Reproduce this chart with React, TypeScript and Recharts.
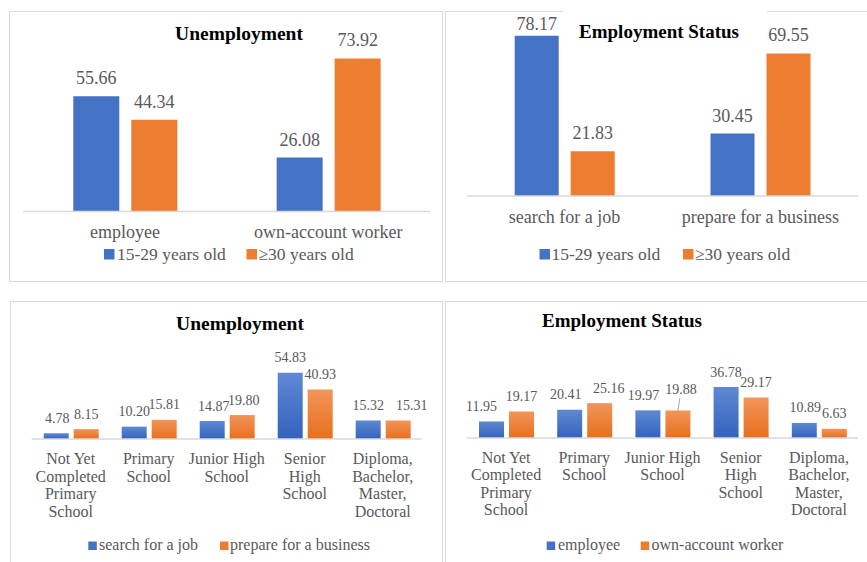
import React from 'react';
import { BarChart, Bar, XAxis, YAxis, LabelList } from 'recharts';

const FONT = '"Liberation Serif", "Times New Roman", serif';
const BLUE = '#4472C4';
const ORANGE = '#ED7D31';
const GREY = '#595959';
const BORDER = '#DADADA';

// top-left: unemployment by age group
const statusCats = ['employee', 'own-account worker'];
const unempYoung = [55.66, 26.08];
const unempOld = [44.34, 73.92];

// top-right: employment status by age group
const activityCats = ['search for a job', 'prepare for a business'];
const empYoung = [78.17, 30.45];
const empOld = [21.83, 69.55];
const ageNames = ['15-29 years old', '≥30 years old'];

// bottom: by education level
const eduCats = [
    'Not Yet\nCompleted\nPrimary\nSchool',
    'Primary\nSchool',
    'Junior High\nSchool',
    'Senior\nHigh\nSchool',
    'Diploma,\nBachelor,\nMaster,\nDoctoral',
];
const unempSearch = [4.78, 10.2, 14.87, 54.83, 15.32];
const unempPrepare = [8.15, 15.81, 19.8, 40.93, 15.31];
const empEmployee = [11.95, 20.41, 19.97, 36.78, 10.89];
const empOwnAccount = [19.17, 25.16, 19.88, 29.17, 6.63];

const toRows = (cats: string[], a: number[], b: number[]) =>
    cats.map((name, i) => ({ name, a: a[i], b: b[i] }));

const CatTick = ({ x, y, payload, fs, dy, lineH }: any) => {
    const lines = String(payload.value).split('\n');
    return (
        <text x={x} y={y + dy} textAnchor="middle" fontFamily={FONT} fontSize={fs} fill={GREY}>
            {lines.map((l, i) => (
                <tspan key={i} x={x} dy={i === 0 ? 0 : lineH}>{l}</tspan>
            ))}
        </text>
    );
};

// data label above a bar; nudges mimic the hand-placed labels of the original
const ValueLabel = ({ x, y, width, value, index, fs, offset, minY, callout, nudge }: any) => {
    const cx = x + width / 2 + (nudge?.[index] ?? 0);
    let by = y - offset;
    if (minY != null) by = Math.max(by, minY);
    const isCallout = callout === index;
    if (isCallout) by -= 6;
    return (
        <g>
            {isCallout && <line x1={cx} y1={y} x2={cx + 2} y2={by + 4} stroke="#A6A6A6" strokeWidth={1} />}
            <text x={isCallout ? cx + 3 : cx} y={by} textAnchor="middle" fontFamily={FONT} fontSize={fs} fill={GREY}>
                {Number(value).toFixed(2)}
            </text>
        </g>
    );
};

interface PanelProps {
    id: string;
    box: { l: number; t: number; w: number; h: number };
    frame: { l: number; t: number; w: number; h: number };
    margin: { top: number; right: number; bottom: number; left: number };
    rows: { name: string; a: number; b: number }[];
    domain: [number, number];
    barSize: number;
    barGap: number;
    gradient?: boolean;
    tick: { fs: number; dy: number; lineH: number };
    label: { fs: number; offset: number; minY?: number; callout?: number; nudgeA?: number[]; nudgeB?: number[] };
    title: { text: string; x: number; y: number; fs: number; cover?: [number, number] };
    legend: { y: number; fs: number; sq: number; names: string[]; sx: number[]; tx: number[] };
}

const Panel: React.FC<PanelProps> = (p) => {
    const fillA = p.gradient ? `url(#${p.id}-a)` : BLUE;
    const fillB = p.gradient ? `url(#${p.id}-b)` : ORANGE;
    return (
        <>
            <div style={{ position: 'absolute', left: p.frame.l, top: p.frame.t, width: p.frame.w, height: p.frame.h, border: `1.5px solid ${BORDER}`, boxSizing: 'border-box' }} />
            <div style={{ position: 'absolute', left: p.box.l, top: p.box.t }}>
                <BarChart width={p.box.w} height={p.box.h} data={p.rows} margin={p.margin} barGap={p.barGap}>
                    <defs>
                        <linearGradient id={`${p.id}-a`} x1="0" y1="0" x2="0" y2="1">
                            <stop offset="0%" stopColor="#5F89D2" />
                            <stop offset="100%" stopColor="#3462BE" />
                        </linearGradient>
                        <linearGradient id={`${p.id}-b`} x1="0" y1="0" x2="0" y2="1">
                            <stop offset="0%" stopColor="#F2955A" />
                            <stop offset="100%" stopColor="#E86F1C" />
                        </linearGradient>
                    </defs>
                    <XAxis
                        dataKey="name"
                        interval={0}
                        tickLine={false}
                        tickSize={0}
                        tickMargin={0}
                        height={30}
                        axisLine={{ stroke: '#D9D9D9', strokeWidth: 1.5 }}
                        tick={(t: any) => <CatTick {...t} fs={p.tick.fs} dy={p.tick.dy} lineH={p.tick.lineH} />}
                    />
                    <YAxis hide domain={p.domain} />
                    <Bar dataKey="a" fill={fillA} barSize={p.barSize} isAnimationActive={false}>
                        <LabelList dataKey="a" content={(l: any) => <ValueLabel {...l} fs={p.label.fs} offset={p.label.offset} minY={p.label.minY} nudge={p.label.nudgeA} />} />
                    </Bar>
                    <Bar dataKey="b" fill={fillB} barSize={p.barSize} isAnimationActive={false}>
                        <LabelList dataKey="b" content={(l: any) => <ValueLabel {...l} fs={p.label.fs} offset={p.label.offset} minY={p.label.minY} callout={p.label.callout} nudge={p.label.nudgeB} />} />
                    </Bar>
                </BarChart>
            </div>
            <svg width={867} height={562} style={{ position: 'absolute', left: 0, top: 0, pointerEvents: 'none' }}>
                {p.title.cover && (
                    <rect x={p.title.cover[0]} y={p.frame.t - 3} width={p.title.cover[1] - p.title.cover[0]} height={6} fill="#fff" />
                )}
                <text x={p.title.x} y={p.title.y} textAnchor="middle" fontFamily={FONT} fontWeight="bold" fontSize={p.title.fs} fill="#000">
                    {p.title.text}
                </text>
                {p.legend.names.map((n, i) => (
                    <g key={n}>
                        <rect x={p.legend.sx[i]} y={p.legend.y - p.legend.sq} width={p.legend.sq} height={p.legend.sq} fill={i === 0 ? BLUE : ORANGE} />
                        <text x={p.legend.tx[i]} y={p.legend.y} fontFamily={FONT} fontSize={p.legend.fs} fill={GREY}>{n}</text>
                    </g>
                ))}
            </svg>
        </>
    );
};

export default function App() {
    return (
        <div style={{ position: 'absolute', left: 0, top: 0, width: 867, height: 562, overflow: 'hidden', background: '#fff' }}>
            <Panel
                id="p1"
                frame={{ l: 9, t: 11, w: 434, h: 271 }}
                box={{ l: 9, t: 11, w: 434, h: 271 }}
                margin={{ top: 34.9, right: 13, bottom: 40.5, left: 14.3 }}
                rows={toRows(statusCats, unempYoung, unempOld)}
                domain={[0, 80]}
                barSize={46}
                barGap={12}
                tick={{ fs: 18, dy: 26, lineH: 18 }}
                label={{ fs: 18, offset: 12 }}
                title={{ text: 'Unemployment', x: 239, y: 40, fs: 19.5 }}
                legend={{ y: 259.5, fs: 17.5, sq: 10.5, names: ageNames, sx: [104, 246.5], tx: [117, 258.5] }}
            />
            <Panel
                id="p2"
                frame={{ l: 445, t: 11, w: 430, h: 271 }}
                box={{ l: 445, t: 11, w: 422, h: 271 }}
                margin={{ top: 21, right: 8.7, bottom: 56, left: 21.7 }}
                rows={toRows(activityCats, empYoung, empOld)}
                domain={[0, 80]}
                barSize={44}
                barGap={12}
                tick={{ fs: 18, dy: 26.5, lineH: 18 }}
                label={{ fs: 18, offset: 12, minY: 19 }}
                title={{ text: 'Employment Status', x: 659, y: 37.5, fs: 19, cover: [563, 767] }}
                legend={{ y: 259.5, fs: 17.5, sq: 10.5, names: ageNames, sx: [539.5, 683], tx: [551.5, 695] }}
            />
            <Panel
                id="p3"
                gradient
                frame={{ l: 10, t: 301, w: 433, h: 270 }}
                box={{ l: 10, t: 301, w: 433, h: 261 }}
                margin={{ top: 65.4, right: 21.3, bottom: 93, left: 21.7 }}
                rows={toRows(eduCats, unempSearch, unempPrepare)}
                domain={[0, 60]}
                barSize={25}
                barGap={5}
                tick={{ fs: 16, dy: 25, lineH: 17.5 }}
                label={{ fs: 14, offset: 10.5, nudgeA: [1, 0, 1.5, 0, 0], nudgeB: [0, 0, 1.5, 0, 13.5] }}
                title={{ text: 'Unemployment', x: 240, y: 330, fs: 19.5 }}
                legend={{ y: 550, fs: 16, sq: 8.5, names: ['search for a job', 'prepare for a business'], sx: [88.3, 220], tx: [99, 230] }}
            />
            <Panel
                id="p4"
                gradient
                frame={{ l: 445, t: 301, w: 430, h: 270 }}
                box={{ l: 445, t: 301, w: 422, h: 261 }}
                margin={{ top: 81.6, right: 9, bottom: 94, left: 22 }}
                rows={toRows(eduCats, empEmployee, empOwnAccount)}
                domain={[0, 40]}
                barSize={25}
                barGap={5}
                tick={{ fs: 16, dy: 24.7, lineH: 17.5 }}
                label={{ fs: 14, offset: 10.5, callout: 2, nudgeA: [-10, -4, -4.5, 0, 1], nudgeB: [0, 9, 0, 0, 0] }}
                title={{ text: 'Employment Status', x: 622, y: 326.7, fs: 19 }}
                legend={{ y: 550, fs: 16, sq: 8.5, names: ['employee', 'own-account worker'], sx: [546.7, 640.7], tx: [558, 651.5] }}
            />
        </div>
    );
}
